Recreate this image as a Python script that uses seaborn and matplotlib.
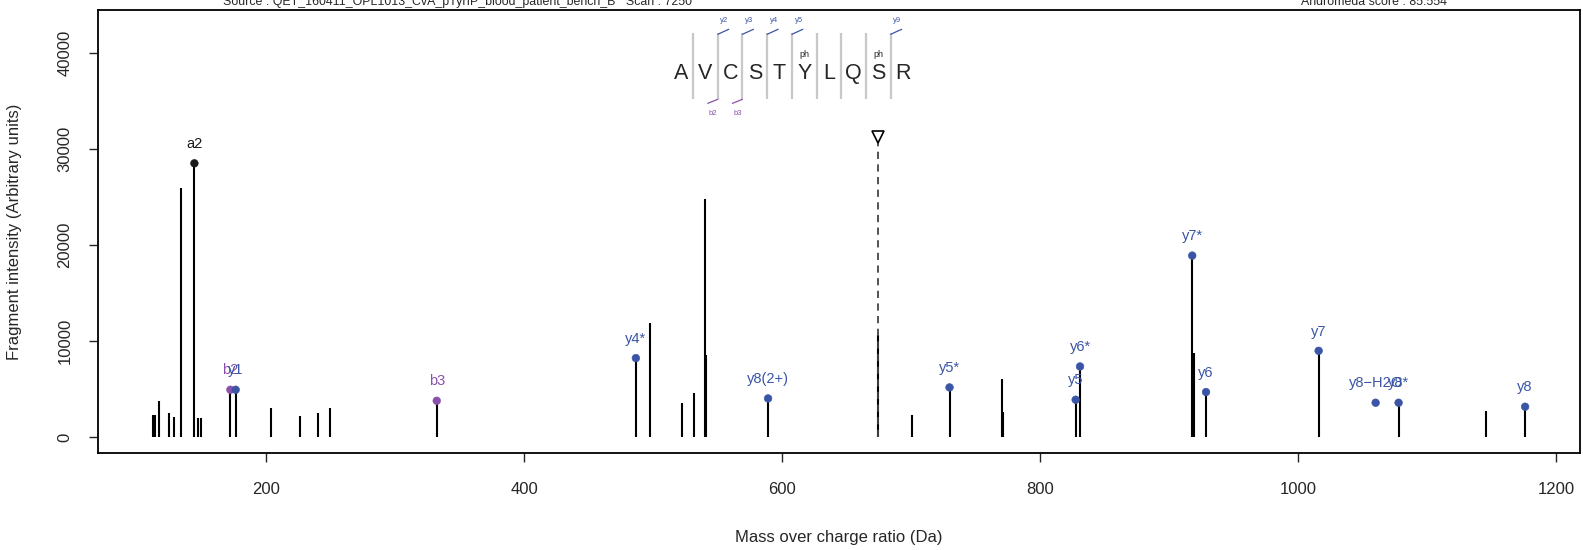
"""Annotated MS/MS fragment spectrum (AVCSTYLQSR)."""
import numpy as np
import pandas as pd
import matplotlib
matplotlib.use("Agg")
import matplotlib.pyplot as plt
import seaborn as sns

# unannotated peaks
peak_mz = [111.9, 113.7, 117.0, 124.7, 128.1, 134.0, 146.7, 149.5, 203.2, 226.2,
           240.1, 248.9, 497.0, 522.0, 531.1, 540.1, 540.8, 673.8, 700.7, 770.6,
           770.9, 918.8, 1145.4]
peak_int = [2236, 2236, 3690, 2485, 2070, 25880, 1965, 1965, 3005, 2204,
            2485, 3005, 11906, 3525, 4565, 24735, 8547, 10627, 2308, 6020,
            2550, 8724, 2652]

# annotated fragment ions
ion_label = ["a2", "b2", "y1", "b3", "y4*", "y8(2+)", "y5*", "y5", "y6*", "y7*",
             "y6", "y7", "y8\u2212H2O", "y8*", "y8"]
ion_mz = [144.1, 172.0, 176.1, 332.0, 486.4, 588.9, 729.6, 827.4, 830.8, 917.8,
          928.5, 1015.8, 1060.0, 1077.8, 1175.9]
ion_int = [28478, 4908, 4908, 3764, 8204, 4003, 5150, 3868, 7331, 18872,
           4669, 8963, 3556, 3556, 3140]
ion_type = ["a", "b", "y", "b", "y", "y", "y", "y", "y", "y",
            "y", "y", "y", "y", "y"]
ion_stem = [True] * 12 + [False, True, True]

precursor_mz = 673.8
precursor_int = 31180

sequence = "AVCSTYLQSR"
phospho_pos = [5, 8]
y_cuts = [2, 3, 4, 5, 9]
b_cuts = [2, 3]

source_text = "Source : QET_160411_OPL1013_CvA_pTyrIP_blood_patient_bench_B   Scan : 7250"
score_text = "Andromeda score : 85.554"

colors = {"a": "#1a1a1a", "b": "#8B50AA", "y": "#3A55A6"}

sns.set_style("white")
plt.rcParams["font.family"] = ["Liberation Sans", "DejaVu Sans"]

fig = plt.figure(figsize=(15.83, 5.5), dpi=100)
ax = fig.add_axes([0.0619, 0.1758, 0.9362, 0.8058])

ions = pd.DataFrame({"label": ion_label, "mz": ion_mz, "intensity": ion_int,
                     "type": ion_type, "stem": ion_stem})

# stems
ax.vlines(peak_mz, 0, peak_int, color="black", lw=1.5)
stems = ions[ions["stem"]]
ax.vlines(stems["mz"], 0, stems["intensity"], color="black", lw=1.5)

# precursor
ax.vlines(precursor_mz, 0, precursor_int - 600, color="#444444", lw=1.3,
          linestyles=(0, (4, 3)))
ax.plot([precursor_mz], [precursor_int], marker="v", ms=9, mfc="white",
        mec="black", mew=1.2, ls="none")

sns.scatterplot(data=ions, x="mz", y="intensity", hue="type", palette=colors,
                s=30, edgecolor=None, legend=False, ax=ax, zorder=3)
for _, r in ions.iterrows():
    ax.annotate(r["label"], (r["mz"], r["intensity"]), xytext=(0, 11),
                textcoords="offset points", ha="center", va="baseline",
                fontsize=10.5, color=colors[r["type"]])

# axis ranges (R style 4% padding)
all_mz = peak_mz + ion_mz
pad = 0.04 * (max(all_mz) - min(all_mz))
ax.set_xlim(min(all_mz) - pad, max(all_mz) + pad)
ymax = 1.5 * max(ion_int)
ax.set_ylim(-0.04 * ymax, 1.04 * ymax)

# peptide sequence cartoon
x0, dx, y_letter = 521.2, 19.15, 37850
sep_top, sep_bot = 42011, 35141
for i, aa in enumerate(sequence):
    ax.text(x0 + i * dx, y_letter, aa, ha="center", va="center", fontsize=15.5)
    if i in phospho_pos:
        ax.text(x0 + i * dx, 39825, "ph", ha="center", va="center", fontsize=6.5)
for j in range(1, len(sequence)):
    sx = x0 + (j - 0.5) * dx
    ax.plot([sx, sx], [sep_bot, sep_top], color="#c8c8c8", lw=1.6,
            solid_capstyle="butt")
for j in y_cuts:
    sx = x0 + (j - 0.5) * dx
    ax.plot([sx, sx + 8.5], [sep_top - 100, sep_top + 420], color=colors["y"], lw=0.9)
    ax.text(sx + 5.2, 43340, f"y{j}", ha="center", va="center", fontsize=5.5,
            color=colors["y"])
for j in b_cuts:
    sx = x0 + (j - 0.5) * dx
    ax.plot([sx, sx - 7.8], [sep_bot, sep_bot - 420], color=colors["b"], lw=0.9)
    ax.text(sx - 3.9, 33680, f"b{j}", ha="center", va="center", fontsize=5.5,
            color=colors["b"])

# axes styling
ax.set_xticks([200, 400, 600, 800, 1000, 1200])
ax.set_yticks([0, 10000, 20000, 30000, 40000])
ax.tick_params(axis="both", direction="out", length=6.5, width=1.0,
               labelsize=12, left=True, bottom=True)
ax.tick_params(axis="x", pad=14)
ax.tick_params(axis="y", pad=12)
for lab in ax.get_yticklabels():
    lab.set_rotation(90)
    lab.set_va("center")
for sp in ax.spines.values():
    sp.set_linewidth(1.3)
    sp.set_color("black")

ax.set_xlabel("Mass over charge ratio (Da)", fontsize=12)
ax.set_ylabel("Fragment intensity (Arbitrary units)", fontsize=12)
ax.xaxis.label.set_va("center")
ax.yaxis.label.set_va("center")
ax.xaxis.set_label_coords(0.5, -0.191)
ax.yaxis.set_label_coords(-0.056, 0.5)

fig.text(458 / 1583, 1 - 5 / 550, source_text, ha="center", va="baseline", fontsize=8.9)
fig.text(1374 / 1583, 1 - 5 / 550, score_text, ha="center", va="baseline", fontsize=8.9)

fig.savefig("out.png", dpi=100)
